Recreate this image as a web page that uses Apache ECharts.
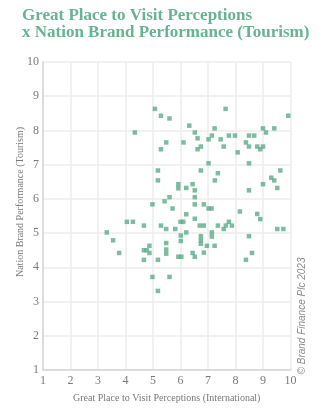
<!DOCTYPE html>
<html>
<head>
<meta charset="utf-8">
<script src="https://cdn.jsdelivr.net/npm/echarts@6/dist/echarts.min.js"></script>
<style>
html,body{margin:0;padding:0;background:#fff;}
#chart{width:327px;height:420px;}
</style>
</head>
<body>
<div id="chart"></div>
<script>
var titleText = "Great Place to Visit Perceptions\nx Nation Brand Performance (Tourism)";
var xAxisName = "Great Place to Visit Perceptions (International)";
var yAxisName = "Nation Brand Performance (Tourism)";
var credit = "\u00A9 Brand Finance Plc 2023";
var xTicks = [1,2,3,4,5,6,7,8,9,10];
var yTicks = [1,2,3,4,5,6,7,8,9,10];

var visitScores = [
  5.07,5.29,5.60,6.32,6.52,6.62,4.34,5.48,6.11,5.29,6.62,6.74,
  7.64,9.92,7.24,9.00,9.41,9.11,7.14,7.76,7.98,8.49,8.68,7.02,7.46,8.38,7.57,8.49,8.79,9.00,8.90,8.08,7.02,8.49,
  5.18,5.18,5.92,5.92,6.21,6.44,6.52,6.74,6.52,5.60,5.42,4.98,5.71,6.52,6.21,
  7.36,7.25,9.63,9.30,9.41,9.00,9.52,8.49,6.85,7.02,7.13,8.16,8.79,
  6.52,4.05,4.27,4.67,5.29,5.48,5.81,6.00,6.10,6.21,6.01,6.01,6.74,6.74,6.74,3.32,3.55,3.77,4.87,4.67,4.77,4.87,4.67,5.18,5.48,5.48,5.48,5.92,6.03,6.44,6.52,4.98,5.60,5.18,
  6.70,6.85,8.90,7.76,7.36,7.65,7.87,7.57,9.52,9.74,7.14,7.14,8.49,6.96,7.24,6.85,8.60,8.38
];
var tourismScores = [
  8.63,8.43,8.35,8.14,7.94,7.77,7.94,7.65,7.65,7.45,7.45,7.53,
  8.63,8.43,8.06,8.06,8.06,7.94,7.85,7.85,7.85,7.85,7.85,7.74,7.74,7.65,7.53,7.53,7.53,7.53,7.45,7.36,7.04,7.04,
  6.83,6.54,6.43,6.31,6.32,6.43,6.25,6.83,6.05,6.05,5.93,5.84,5.72,5.84,5.55,
  6.75,6.54,6.83,6.62,6.54,6.43,6.32,6.25,5.84,5.72,5.72,5.63,5.56,
  5.42,5.33,5.33,5.22,5.22,5.12,5.12,5.33,5.33,5.02,4.93,4.77,4.91,4.79,4.69,5.02,4.79,4.42,4.63,4.50,4.50,4.42,4.22,4.22,4.71,4.52,4.40,4.31,4.31,4.42,4.31,3.72,3.72,3.31,
  5.22,5.22,5.41,5.33,5.22,5.22,5.22,5.12,5.12,5.12,5.02,4.90,4.91,4.63,4.63,4.43,4.42,4.22
];

var points = visitScores.map(function(v, i){ return [v, tourismScores[i]]; });

var chart = echarts.init(document.getElementById('chart'), null, {renderer:'canvas'});
var serif = "'Liberation Serif', 'DejaVu Serif', serif";
var gridColor = '#ececec';
chart.setOption({
  animation: false,
  backgroundColor: '#ffffff',
  title: {
    text: titleText,
    left: 17,
    top: 2,
    textStyle: {
      fontFamily: serif,
      fontWeight: 'bold',
      fontSize: 17,
      lineHeight: 17,
      color: '#69b393'
    }
  },
  grid: { left: 43, right: 36.5, top: 62, bottom: 50 },
  xAxis: {
    type: 'value',
    min: 1, max: 10, interval: 1,
    name: xAxisName,
    nameLocation: 'middle',
    nameGap: 23,
    nameTextStyle: { fontFamily: serif, fontSize: 10, color: '#7a7a7a' },
    axisLine: { show: true, lineStyle: { color: '#dcdcdc', width: 2 } },
    axisTick: { show: false },
    axisLabel: {
      margin: 5,
      fontFamily: serif, fontSize: 12, color: '#7a7a7a',
      formatter: function(v){ return xTicks.indexOf(v) >= 0 ? String(v) : ''; }
    },
    splitLine: { show: true, lineStyle: { color: gridColor, width: 1.5 } }
  },
  yAxis: {
    type: 'value',
    min: 1, max: 10, interval: 1,
    axisLine: { show: true, lineStyle: { color: '#dcdcdc', width: 2 } },
    axisTick: { show: false },
    axisLabel: {
      margin: 4,
      fontFamily: serif, fontSize: 12, color: '#7a7a7a',
      formatter: function(v){ return yTicks.indexOf(v) >= 0 ? String(v) : ''; }
    },
    splitLine: { show: true, lineStyle: { color: gridColor, width: 1.5 } }
  },
  graphic: [
    {
      type: 'text',
      x: 20, y: 202,
      rotation: Math.PI / 2,
      style: {
        text: yAxisName,
        fontFamily: serif, fontSize: 10, fill: '#7a7a7a',
        textAlign: 'center', textVerticalAlign: 'middle'
      }
    },
    {
      type: 'text',
      x: 302, y: 316,
      rotation: Math.PI / 2,
      style: {
        text: credit,
        fontFamily: "'Liberation Sans', Arial, sans-serif", fontStyle: 'italic', fontSize: 10, fill: '#8a8a8a',
        textAlign: 'center', textVerticalAlign: 'middle'
      }
    }
  ],
  series: [{
    type: 'scatter',
    symbol: 'rect',
    symbolSize: 4.5,
    itemStyle: { color: '#5eab8b' },
    data: points
  }]
});
</script>
</body>
</html>
